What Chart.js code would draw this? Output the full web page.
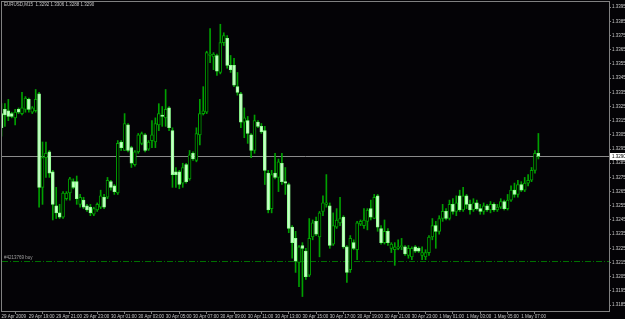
<!DOCTYPE html>
<html><head><meta charset="utf-8">
<script src="https://cdn.jsdelivr.net/npm/chart.js@4.4.0/dist/chart.umd.min.js"></script>
<style>html,body{margin:0;padding:0;background:#000;overflow:hidden}#wrap{width:625px;height:319px;position:relative}</style>
</head><body><div id="wrap"><canvas id="c" width="625" height="319"></canvas></div>
<script>
const symbolTitle = 'EURUSD,M15';
const headerQuote = ['1.3292', '1.3306', '1.3288', '1.3290'];

const opens = [
1.3320,1.3323,1.3322,1.3320,1.3317,1.3323,1.3320,1.3323,1.3330,1.3321,
1.3322,1.3334,1.3268,1.3289,1.3293,1.3279,1.3255,1.3250,1.3247,1.3260,
1.3264,1.3272,1.3272,1.3256,1.3259,1.3255,1.3254,1.3249,1.3252,1.3254,
1.3261,1.3261,1.3272,1.3269,1.3264,1.3300,1.3294,1.3312,1.3296,1.3284,
1.3293,1.3299,1.3305,1.3295,1.3301,1.3300,1.3312,1.3319,1.3317,1.3324,
1.3308,1.3279,1.3279,1.3271,1.3284,1.3274,1.3292,1.3287,1.3305,1.3320,
1.3321,1.3361,1.3360,1.3361,1.3349,1.3370,1.3373,1.3354,1.3354,1.3339,
1.3334,1.3314,1.3315,1.3305,1.3294,1.3314,1.3311,1.3308,1.3278,1.3253,
1.3278,1.3275,1.3285,1.3272,1.3270,1.3240,1.3232,1.3215,1.3227,1.3223,
1.3206,1.3233,1.3244,1.3233,1.3251,1.3256,1.3255,1.3228,1.3240,1.3243,
1.3247,1.3226,1.3210,1.3229,1.3224,1.3242,1.3241,1.3244,1.3253,1.3246,
1.3262,1.3239,1.3229,1.3237,1.3225,1.3224,1.3225,1.3226,1.3226,1.3220,
1.3219,1.3226,1.3225,1.3220,1.3219,1.3222,1.3233,1.3241,1.3237,1.3246,
1.3251,1.3246,1.3256,1.3251,1.3262,1.3252,1.3262,1.3256,1.3252,1.3257,
1.3253,1.3251,1.3255,1.3252,1.3256,1.3252,1.3254,1.3258,1.3253,1.3259,
1.3266,1.3263,1.3270,1.3266,1.3271,1.3273,1.3280,1.3292
];
const highs = [
1.3327,1.3327,1.3330,1.3321,1.3323,1.3324,1.3335,1.3332,1.3331,1.3325,
1.3337,1.3335,1.3300,1.3300,1.3294,1.3280,1.3268,1.3256,1.3265,1.3265,
1.3275,1.3274,1.3276,1.3263,1.3261,1.3256,1.3256,1.3254,1.3257,1.3266,
1.3263,1.3275,1.3273,1.3270,1.3301,1.3301,1.3320,1.3313,1.3297,1.3294,
1.3306,1.3307,1.3306,1.3301,1.3315,1.3317,1.3327,1.3325,1.3337,1.3325,
1.3310,1.3282,1.3280,1.3285,1.3285,1.3294,1.3293,1.3310,1.3330,1.3339,
1.3364,1.3380,1.3363,1.3362,1.3383,1.3377,1.3375,1.3361,1.3359,1.3349,
1.3335,1.3324,1.3318,1.3306,1.3319,1.3315,1.3313,1.3311,1.3280,1.3280,
1.3292,1.3288,1.3292,1.3282,1.3271,1.3241,1.3237,1.3227,1.3229,1.3225,
1.3246,1.3245,1.3247,1.3251,1.3262,1.3277,1.3257,1.3250,1.3253,1.3261,
1.3248,1.3227,1.3234,1.3231,1.3244,1.3245,1.3253,1.3253,1.3259,1.3263,
1.3263,1.3241,1.3245,1.3239,1.3229,1.3229,1.3231,1.3232,1.3227,1.3227,
1.3226,1.3227,1.3226,1.3226,1.3224,1.3234,1.3246,1.3244,1.3248,1.3256,
1.3253,1.3259,1.3260,1.3262,1.3266,1.3268,1.3263,1.3259,1.3260,1.3259,
1.3256,1.3257,1.3256,1.3258,1.3257,1.3256,1.3260,1.3259,1.3263,1.3269,
1.3271,1.3273,1.3272,1.3275,1.3277,1.3282,1.3294,1.3306
];
const lows = [
1.3304,1.3311,1.3315,1.3317,1.3312,1.3320,1.3319,1.3321,1.3321,1.3320,
1.3321,1.3254,1.3256,1.3275,1.3275,1.3245,1.3246,1.3246,1.3246,1.3259,
1.3259,1.3267,1.3256,1.3254,1.3253,1.3251,1.3248,1.3248,1.3251,1.3253,
1.3253,1.3260,1.3266,1.3263,1.3263,1.3294,1.3294,1.3293,1.3282,1.3283,
1.3292,1.3298,1.3293,1.3294,1.3296,1.3296,1.3308,1.3311,1.3311,1.3308,
1.3268,1.3268,1.3267,1.3268,1.3271,1.3273,1.3287,1.3286,1.3298,1.3319,
1.3320,1.3356,1.3351,1.3347,1.3348,1.3368,1.3352,1.3349,1.3339,1.3333,
1.3310,1.3303,1.3299,1.3289,1.3292,1.3310,1.3306,1.3270,1.3250,1.3250,
1.3274,1.3265,1.3270,1.3263,1.3236,1.3218,1.3208,1.3198,1.3191,1.3203,
1.3205,1.3231,1.3234,1.3219,1.3248,1.3254,1.3225,1.3227,1.3239,1.3241,
1.3225,1.3201,1.3208,1.3224,1.3217,1.3241,1.3239,1.3238,1.3245,1.3246,
1.3237,1.3228,1.3228,1.3227,1.3222,1.3213,1.3224,1.3224,1.3220,1.3218,
1.3217,1.3222,1.3222,1.3217,1.3217,1.3220,1.3231,1.3225,1.3235,1.3244,
1.3245,1.3245,1.3249,1.3248,1.3251,1.3251,1.3253,1.3249,1.3251,1.3252,
1.3249,1.3249,1.3251,1.3250,1.3251,1.3251,1.3253,1.3252,1.3252,1.3258,
1.3261,1.3261,1.3265,1.3265,1.3269,1.3272,1.3278,1.3288
];
const closes = [
1.3310,1.3319,1.3318,1.3318,1.3321,1.3321,1.3324,1.3331,1.3323,1.3324,
1.3330,1.3268,1.3289,1.3292,1.3278,1.3256,1.3250,1.3247,1.3264,1.3264,
1.3274,1.3268,1.3260,1.3261,1.3254,1.3252,1.3250,1.3253,1.3256,1.3262,
1.3254,1.3273,1.3268,1.3265,1.3299,1.3296,1.3313,1.3294,1.3285,1.3293,
1.3305,1.3306,1.3294,1.3300,1.3305,1.3313,1.3320,1.3318,1.3323,1.3310,
1.3277,1.3277,1.3270,1.3282,1.3272,1.3291,1.3288,1.3306,1.3320,1.3322,
1.3363,1.3362,1.3362,1.3350,1.3370,1.3375,1.3354,1.3351,1.3340,1.3335,
1.3314,1.3317,1.3306,1.3294,1.3315,1.3311,1.3307,1.3280,1.3252,1.3277,
1.3275,1.3286,1.3272,1.3271,1.3239,1.3229,1.3216,1.3226,1.3225,1.3205,
1.3232,1.3243,1.3235,1.3250,1.3257,1.3257,1.3227,1.3241,1.3245,1.3246,
1.3226,1.3208,1.3232,1.3225,1.3243,1.3244,1.3245,1.3252,1.3247,1.3261,
1.3240,1.3229,1.3237,1.3229,1.3228,1.3226,1.3226,1.3227,1.3221,1.3225,
1.3225,1.3223,1.3223,1.3222,1.3222,1.3233,1.3241,1.3237,1.3246,1.3251,
1.3246,1.3256,1.3251,1.3257,1.3252,1.3262,1.3256,1.3252,1.3257,1.3253,
1.3251,1.3255,1.3252,1.3256,1.3252,1.3254,1.3258,1.3253,1.3259,1.3266,
1.3263,1.3270,1.3266,1.3271,1.3273,1.3280,1.3292,1.3290
];

const timeLabels = ['29 Apr 2009','29 Apr 19:00','29 Apr 21:00','29 Apr 23:00','30 Apr 01:00','30 Apr 03:00',
  '30 Apr 05:00','30 Apr 07:00','30 Apr 09:00','30 Apr 11:00','30 Apr 13:00','30 Apr 15:00','30 Apr 17:00',
  '30 Apr 19:00','30 Apr 21:00','30 Apr 23:00','1 May 01:00','1 May 03:00','1 May 05:00','1 May 07:00'];
const labelBars = [0,8,16,24,32,40,48,56,64,72,80,88,96,104,112,120,128,136,144,152];
const priceTicks = [1.3395,1.3385,1.3375,1.3365,1.3355,1.3345,1.3335,1.3325,1.3315,1.3305,1.3295,
  1.3285,1.3275,1.3265,1.3255,1.3245,1.3235,1.3225,1.3215,1.3205,1.3195,1.3185];
const currentPrice = 1.3290;
const orderPrice = 1.3216;
const orderLabel = '#4213769 buy';

const Y_MIN = 1.31808, Y_MAX = 1.33987;
const X_MIN = 0.15, X_MAX = 177.65;

const FONT = 'Liberation Sans, Arial, sans-serif';
const TXT = '#c8c8c8';
const AXIS = '#808080';
const WICK = '#00a000';
const BULL_FILL = '#000000';
const BEAR_FILL = '#c8ffc8';
const BEAR_EDGE = '#90ff90';

const idx = opens.map((_, i) => i);
const wickData = idx.map(i => ({x: i, y: [lows[i], highs[i]]}));
const bodyData = idx.map(i => ({x: i, y: [opens[i], closes[i]]}));
const isBull = i => closes[i] > opens[i];

const decor = {
  id: 'decor',
  beforeDraw(chart) {
    const ctx = chart.ctx;
    ctx.save();
    ctx.fillStyle = '#040306';
    ctx.fillRect(0, 0, chart.width, chart.height);
    ctx.restore();
  },
  beforeDatasetsDraw(chart) {
    const {ctx, chartArea: a, scales: {y}} = chart;
    ctx.save();
    // order line (dash-dot)
    const yo = Math.round(y.getPixelForValue(orderPrice)) + 0.5;
    ctx.strokeStyle = '#007000';
    ctx.lineWidth = 1;
    ctx.setLineDash([6, 2, 1, 2]);
    ctx.beginPath(); ctx.moveTo(a.left, yo); ctx.lineTo(a.right, yo); ctx.stroke();
    ctx.setLineDash([]);
    // current price line
    const yc = Math.round(y.getPixelForValue(currentPrice)) + 0.5;
    ctx.strokeStyle = '#8a8a8a';
    ctx.beginPath(); ctx.moveTo(a.left, yc); ctx.lineTo(a.right, yc); ctx.stroke();
    // order label
    ctx.fillStyle = '#a0a0a0';
    ctx.font = '4.5px ' + FONT;
    ctx.textBaseline = 'bottom';
    ctx.textAlign = 'left';
    ctx.fillText(orderLabel, a.left + 2, yo - 1);
    ctx.restore();
  },
  afterDraw(chart) {
    const {ctx, chartArea: a, scales: {y}} = chart;
    ctx.save();
    ctx.strokeStyle = AXIS;
    ctx.lineWidth = 1;
    ctx.strokeRect(Math.round(a.left) - 0.5, Math.round(a.top) - 0.5, Math.round(a.right - a.left) + 1, Math.round(a.bottom - a.top) + 1);
    // header
    ctx.fillStyle = TXT;
    ctx.font = '4.5px ' + FONT;
    ctx.textBaseline = 'middle';
    ctx.textAlign = 'left';
    ctx.fillText(symbolTitle + '  ' + headerQuote.join(' '), a.left + 2, a.top + 3);
    // price box
    const yc = Math.round(y.getPixelForValue(currentPrice));
    ctx.fillStyle = '#ffffff';
    ctx.fillRect(a.right + 1, yc - 3, 15, 7);
    ctx.fillStyle = '#000000';
    ctx.font = '4.5px ' + FONT;
    ctx.fillText(currentPrice.toFixed(4), a.right + 3, yc + 0.5);
    ctx.restore();
  }
};

new Chart(document.getElementById('c'), {
  type: 'bar',
  data: {
    datasets: [
      {data: wickData, backgroundColor: WICK, borderWidth: 0, barThickness: 1, grouped: false, order: 2},
      {data: bodyData,
       backgroundColor: c => isBull(c.dataIndex) ? BULL_FILL : BEAR_FILL,
       borderColor: c => isBull(c.dataIndex) ? WICK : BEAR_EDGE,
       borderWidth: 1, borderSkipped: false, barThickness: 3, minBarLength: 1, grouped: false, order: 1}
    ]
  },
  options: {
    responsive: false, animation: false, devicePixelRatio: 1,
    layout: {padding: {left: 2, top: 2, right: 0, bottom: 0}},
    plugins: {legend: {display: false}, tooltip: {enabled: false}},
    scales: {
      x: {
        type: 'linear', min: X_MIN, max: X_MAX, offset: false,
        afterBuildTicks: s => { s.ticks = labelBars.map(v => ({value: v})); },
        afterFit: s => { s.height = 8; s.paddingLeft = 0; s.paddingRight = 0; },
        ticks: {autoSkip: false, maxRotation: 0, minRotation: 0, align: 'start', padding: 0,
          color: TXT, font: {size: 4.5, family: FONT},
          callback: (v) => { const k = labelBars.indexOf(v); return k >= 0 ? timeLabels[k] : ''; }},
        grid: {drawOnChartArea: false, tickLength: 3, color: AXIS},
        border: {color: AXIS}
      },
      y: {
        position: 'right', min: Y_MIN, max: Y_MAX,
        afterBuildTicks: s => { s.ticks = priceTicks.map(v => ({value: v})); },
        afterFit: s => { s.width = 16; s.paddingTop = 0; s.paddingBottom = 0; },
        ticks: {padding: 1, color: TXT, font: {size: 4.5, family: FONT},
          callback: v => v.toFixed(4)},
        grid: {drawOnChartArea: false, tickLength: 2, color: AXIS},
        border: {color: AXIS}
      }
    }
  },
  plugins: [decor]
});
</script></body></html>
